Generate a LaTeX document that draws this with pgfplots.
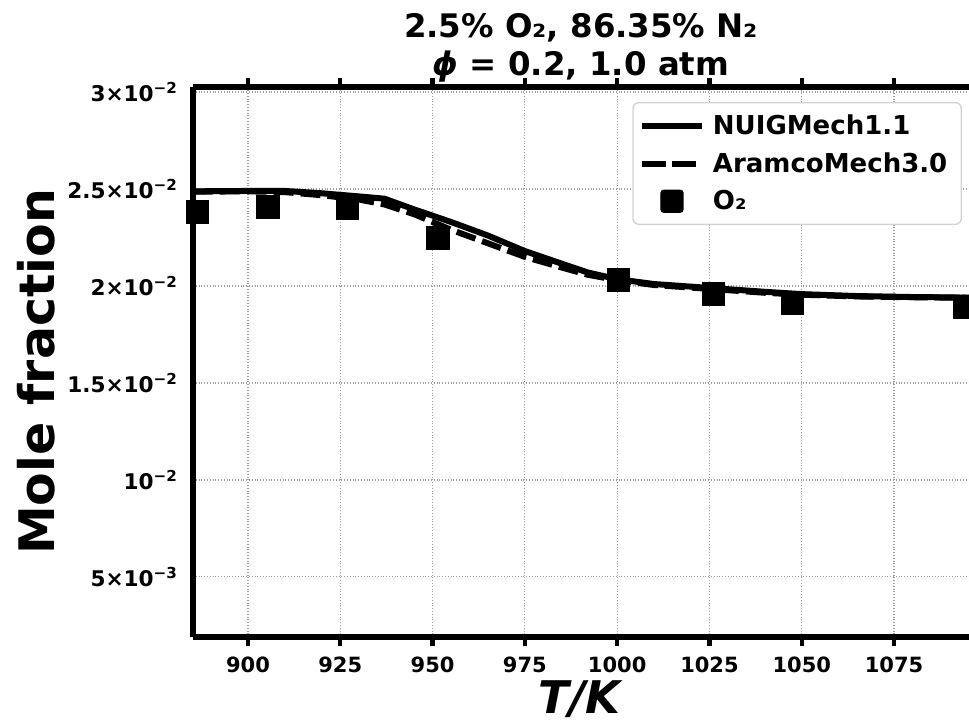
\documentclass[border=0pt]{standalone}
\usepackage{fontspec}
\setmainfont{DejaVu Sans}
\usepackage{pgfplots}
\pgfplotsset{compat=1.18}

% NUIGMech1.1 simulation
\pgfplotstableread{
T     X
885   0.02488
900   0.02490
910   0.02490
920   0.02478
930   0.02462
937   0.02450
945   0.02395
955   0.02330
965   0.02260
975   0.02180
985   0.02115
992   0.02070
1000  0.02035
1010  0.02010
1025  0.01990
1040  0.01970
1050  0.01958
1065  0.01948
1080  0.01943
1096  0.01940
}\nuig

% AramcoMech3.0 simulation
\pgfplotstableread{
T     X
885   0.02486
900   0.02488
910   0.02484
920   0.02468
930   0.02446
937   0.02420
945   0.02370
955   0.02290
965   0.02220
975   0.02150
985   0.02095
992   0.02058
1000  0.02030
1010  0.02005
1025  0.01985
1040  0.01965
1050  0.01955
1065  0.01946
1080  0.01942
1096  0.01939
}\aramco

% Measured O2 mole fraction
\pgfplotstableread{
T       X
886.3   0.02381
905.4   0.02407
926.9   0.02402
951.4   0.02247
1000.4  0.02031
1026.0  0.01959
1047.5  0.01912
1094.0  0.01890
}\measured

\begin{document}
\begin{tikzpicture}
\useasboundingbox (-96.5pt,-43.5pt) rectangle (388pt,318.5pt);
\begin{axis}[
  at={(0,0)}, anchor=south west,
  scale only axis,
  width=388pt, height=275pt,
  xmin=885.1, xmax=1095.3,
  ymin=0.0019, ymax=0.03026,
  axis y line*=left,
  axis line style={line width=3pt},
  xtick={900,925,...,1075},
  xticklabels={900,925,950,975,1000,1025,1050,1075},
  xticklabel style={font=\bfseries\fontsize{10.5}{12}\selectfont, yshift=-2pt},
  ytick={0.005,0.01,0.015,0.02,0.025,0.03},
  yticklabels={5×10\textsuperscript{−3},10\textsuperscript{−2},1.5×10\textsuperscript{−2},2×10\textsuperscript{−2},2.5×10\textsuperscript{−2},3×10\textsuperscript{−2}},
  yticklabel style={font=\bfseries\fontsize{10.8}{12}\selectfont, xshift=0.5pt},
  scaled y ticks=false,
  tick align=outside,
  xtick style={line width=2.2pt, black},
  major tick length=4.5pt,
  ytick style={draw=none},
  grid=major,
  grid style={densely dotted, gray!75, line width=0.6pt},
  xlabel={\textbf{\textit{T/K}}},
  xlabel style={font=\fontsize{22.5}{24}\selectfont, yshift=3pt},
  ylabel={\textbf{Mole fraction}},
  ylabel style={font=\fontsize{24.5}{26}\selectfont, at={(ticklabel cs:0.482)}, yshift=-1pt},
  title={2.5\% O₂, 86.35\% N₂\\\textit{ϕ} = 0.2, 1.0 atm},
  title style={font=\bfseries\fontsize{16.2}{19}\selectfont, align=center, yshift=-7pt},
  legend style={at={(0.991,0.973)}, anchor=north east,
    font=\bfseries\fontsize{13}{15}\selectfont,
    draw=gray!35, line width=0.7pt, rounded corners=3pt,
    fill=white,
    row sep=3.5pt, inner xsep=3pt, inner ysep=4pt,
    nodes={inner xsep=4pt},
    legend cell align=left},
  clip=true,
]
\addplot[black, line width=3pt,
  legend image code/.code={\draw[black, line width=3pt] (0pt,0pt) -- (30pt,0pt);}]
  table[x=T, y=X] {\nuig};
\addlegendentry{NUIGMech1.1}
\addplot[black, line width=3pt, dash pattern=on 10pt off 3.5pt,
  legend image code/.code={\draw[black, line width=3pt, dash pattern=on 12pt off 3pt] (0pt,0pt) -- (30pt,0pt);}]
  table[x=T, y=X] {\aramco};
\addlegendentry{AramcoMech3.0}
\addplot[only marks, mark=square*, mark size=5.6pt,
  mark options={fill=black, draw=black, rounded corners=1.5pt},
  legend image code/.code={\draw[fill=black, rounded corners=1.5pt] (9.5pt,-5.5pt) rectangle (20.5pt,5.5pt);}]
  table[x=T, y=X] {\measured};
\addlegendentry{O₂}
\end{axis}
\end{tikzpicture}
\end{document}
